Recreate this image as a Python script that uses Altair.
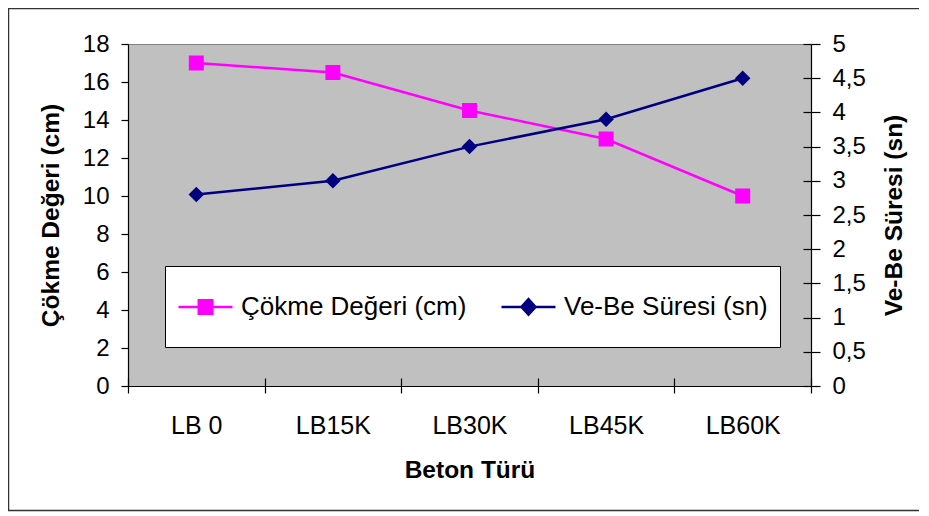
import altair as alt
import pandas as pd

categories = ["LB 0", "LB15K", "LB30K", "LB45K", "LB60K"]
cokme = [17, 16.5, 14.5, 13, 10]
vebe = [2.8, 3.0, 3.5, 3.9, 4.5]
series_names = ["Çökme Değeri (cm)", "Ve-Be Süresi (sn)"]
series_colors = ["#FF00FF", "#000080"]
left_ticks = [0, 2, 4, 6, 8, 10, 12, 14, 16, 18]
right_ticks = [0, 0.5, 1, 1.5, 2, 2.5, 3, 3.5, 4, 4.5, 5]
legend_shapes = [
    "M0,-0.84L0,-0.84M0,0.84L0,0.84M-1,0H1M-0.25,-0.25H0.25V0.25H-0.25Z",
    "M0,-0.84L0,-0.84M0,0.84L0,0.84M-1,0H1M-0.26,0L0,-0.29L0.26,0L0,0.29Z",
]

df_c = pd.DataFrame({"cat": categories, "value": cokme, "series": series_names[0]})
df_v = pd.DataFrame({"cat": categories, "value": vebe, "series": series_names[1]})
df_all = pd.concat([df_c, df_v], ignore_index=True)

W, H = 683, 342
FONT = "Liberation Sans"
PAD = {"left": 120, "top": 36, "right": 108, "bottom": 126}

x_scale = alt.Scale(type="band", domain=categories, paddingInner=0, paddingOuter=0)

main_x_axis = alt.Axis(
    orient="bottom", tickBand="extent", tickSize=7, labelPadding=20,
    labelFontSize=25, labelAngle=0, title="Beton Türü", titlePadding=20,
    titleFontSize=24.5, titleFontWeight="bold", grid=False,
)

left_y = alt.Y(
    "value:Q",
    scale=alt.Scale(domain=[0, 18], nice=False, zero=True),
    axis=alt.Axis(
        orient="left", values=left_ticks, tickSize=7, labelPadding=12,
        labelFontSize=24, title="Çökme Değeri (cm)", titleFontSize=24.5,
        titleFontWeight="bold", titlePadding=19, grid=False,
    ),
)

right_y = alt.Y(
    "value:Q",
    scale=alt.Scale(domain=[0, 5], nice=False, zero=True),
    axis=alt.Axis(
        orient="right", values=right_ticks, tickSize=9, labelPadding=12,
        labelFontSize=24, labelExpr="replace(toString(datum.value), '.', ',')",
        title="Ve-Be Süresi (sn)", titleFontSize=24.5, titleFontWeight="bold",
        titleAngle=270, titleBaseline="top", titlePadding=17, grid=False,
    ),
)

left_line = alt.Chart(df_c).mark_line(color=series_colors[0], strokeWidth=2.5).encode(
    x=alt.X("cat:N", scale=x_scale, sort=categories, bandPosition=0.5, axis=main_x_axis),
    y=left_y,
)
left_pts = alt.Chart(df_c).mark_point(
    shape="square", filled=True, size=225, color=series_colors[0], opacity=1
).encode(
    x=alt.X("cat:N", scale=x_scale, sort=categories, bandPosition=0.5, axis=main_x_axis),
    y=left_y,
)
left = alt.layer(left_line, left_pts)

right_line = alt.Chart(df_v).mark_line(color=series_colors[1], strokeWidth=2.5).encode(
    x=alt.X("cat:N", scale=x_scale, sort=categories, bandPosition=0.5, axis=None),
    y=right_y,
)
right_pts = alt.Chart(df_v).mark_point(
    shape="diamond", filled=True, size=240, color=series_colors[1], opacity=1
).encode(
    x=alt.X("cat:N", scale=x_scale, sort=categories, bandPosition=0.5, axis=None),
    y=right_y,
)
right = alt.layer(right_line, right_pts)

legend_def = alt.Legend(
    title=None, orient="none", legendX=37, legendY=222, direction="horizontal",
    fillColor="white", strokeColor="black", padding=12, symbolSize=2916,
    symbolStrokeWidth=2.5, symbolOpacity=1, labelFontSize=26, labelFont=FONT,
    labelColor="black", labelOffset=7, columnPadding=29, labelLimit=400,
)

guide = alt.Chart(df_all).mark_point(opacity=0, filled=True, clip=True).encode(
    x=alt.X(
        "cat:N", scale=x_scale, sort=categories, bandPosition=0.5,
        axis=alt.Axis(orient="bottom", offset=-8, tickSize=8, labels=False,
                      domain=False, title=None, tickBand="extent", grid=False),
    ),
    y=alt.Y(
        "value:Q", scale=alt.Scale(domain=[0, 5], nice=False, zero=True),
        axis=alt.Axis(orient="right", offset=-8, tickSize=8, labels=False,
                      domain=False, title=None, values=right_ticks, grid=False),
    ),
    fill=alt.Fill("series:N", scale=alt.Scale(domain=series_names, range=series_colors), legend=legend_def),
    stroke=alt.Stroke("series:N", scale=alt.Scale(domain=series_names, range=series_colors), legend=legend_def),
    shape=alt.Shape("series:N", scale=alt.Scale(domain=series_names, range=legend_shapes), legend=legend_def),
)

frame = alt.Chart(pd.DataFrame({"a": [0]})).mark_rect(
    fillOpacity=0, stroke="#333333", strokeWidth=1.5
).encode(
    x=alt.value(-PAD["left"] + 0.5),
    x2=alt.value(W + PAD["right"] + 20),
    y=alt.value(-PAD["top"] + 0.5),
    y2=alt.value(H + PAD["bottom"] - 1.5),
)

chart = (
    alt.layer(frame, left, right, guide)
    .resolve_scale(x="independent", y="independent")
    .properties(width=W, height=H, autosize=alt.AutoSizeParams(type="none"), padding=PAD)
    .configure(font=FONT)
    .configure_view(fill="#C0C0C0", stroke="#808080", strokeWidth=1)
    .configure_axis(
        domainColor="black", tickColor="black", labelColor="black",
        titleColor="black", labelFont=FONT, titleFont=FONT, domainWidth=1.2,
        tickWidth=1.2,
    )
)

chart.save("out.html", embed_options={"renderer": "svg", "actions": False})
